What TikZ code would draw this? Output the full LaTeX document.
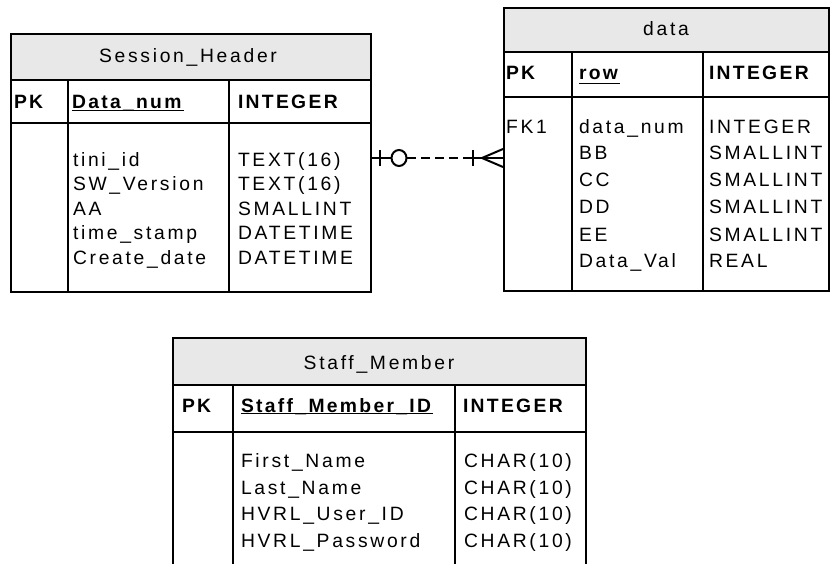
\documentclass[tikz,border=0pt]{standalone}
\usepackage{fontspec}
\setmainfont{Liberation Sans}[LetterSpace=14,BoldFeatures={LetterSpace=12}]
\definecolor{hdrgray}{HTML}{E8E8E8}
\newcommand\tfs{\fontsize{19.3}{21}\selectfont}
\begin{document}
\begin{tikzpicture}[x=1pt,y=-1pt,
  frame/.style={draw=black,line width=2pt},
  grid/.style={line width=2pt},
  hdrfill/.style={fill=hdrgray},
  txt/.style={inner sep=0pt,outer sep=0pt,anchor=base west,font=\tfs},
  ctxt/.style={inner sep=0pt,outer sep=0pt,anchor=base,font=\tfs},
  ulin/.style={line width=1.8pt},
  rel/.style={line width=2pt}]
\useasboundingbox (0,0) rectangle (830,564);

% ---------------- Session_Header ----------------
\fill[hdrfill] (10,33) rectangle (370,80);
\node[frame,minimum width=360pt,minimum height=258pt,anchor=north west,inner sep=0pt] (sh) at (10,33) {};
\draw[grid] (10,80) -- (370,80);
\draw[grid] (10,123) -- (370,123);
\draw[grid] (68,80) -- (68,291);
\draw[grid] (229,80) -- (229,291);
\node[ctxt] (shh) at (188,63) {Session\_Header};
\node[txt] (shpk) at (14,109) {\textbf{PK}};
\node[txt] (shk) at (72,109) {\textbf{Data\_num}};
\draw[ulin] ([yshift=-1.5pt]shk.base west) -- ([yshift=-1.5pt]shk.base east);
\node[txt] (sht) at (238,109) {\textbf{INTEGER}};
\node[txt] (shr1) at (73,167) {tini\_id};
\node[txt] (shr2) at (73,191) {SW\_Version};
\node[txt] (shr3) at (73,215) {AA};
\node[txt] (shr4) at (73,240) {time\_stamp};
\node[txt] (shr5) at (73,264) {Create\_date};
\node[txt] (sht1) at (238,167) {TEXT(16)};
\node[txt] (sht2) at (238,191) {TEXT(16)};
\node[txt] (sht3) at (238,215) {SMALLINT};
\node[txt] (sht4) at (238,240) {DATETIME};
\node[txt] (sht5) at (238,264) {DATETIME};

% ---------------- data ----------------
\fill[hdrfill] (503,7) rectangle (828,52);
\node[frame,minimum width=325pt,minimum height=283pt,anchor=north west,inner sep=0pt] (dt) at (503,7) {};
\draw[grid] (503,52) -- (828,52);
\draw[grid] (503,97) -- (828,97);
\draw[grid] (572,52) -- (572,290);
\draw[grid] (703,52) -- (703,290);
\node[ctxt] (dth) at (666,36) {data};
\node[txt] (dtpk) at (506,80) {\textbf{PK}};
\node[txt] (dtk) at (579,80) {\textbf{row}};
\draw[ulin] ([yshift=-3.5pt]dtk.base west) -- ([yshift=-3.5pt]dtk.base east);
\node[txt] (dtt) at (709,80) {\textbf{INTEGER}};
\node[txt] (dtfk) at (506,134) {FK1};
\node[txt] (dtr1) at (579,134) {data\_num};
\node[txt] (dtr2) at (579,160) {BB};
\node[txt] (dtr3) at (579,187) {CC};
\node[txt] (dtr4) at (579,214) {DD};
\node[txt] (dtr5) at (579,241) {EE};
\node[txt] (dtr6) at (579,268) {Data\_Val};
\node[txt] (dtt1) at (709,134) {INTEGER};
\node[txt] (dtt2) at (709,160) {SMALLINT};
\node[txt] (dtt3) at (709,187) {SMALLINT};
\node[txt] (dtt4) at (709,214) {SMALLINT};
\node[txt] (dtt5) at (709,241) {SMALLINT};
\node[txt] (dtt6) at (709,268) {REAL};

% ---------------- Staff_Member ----------------
\fill[hdrfill] (173,338) rectangle (586,385);
\draw[grid] (173,575) -- (173,338) -- (586,338) -- (586,575);
\draw[grid] (173,385) -- (586,385);
\draw[grid] (173,432) -- (586,432);
\draw[grid] (233,385) -- (233,575);
\draw[grid] (455,385) -- (455,575);
\node[ctxt] (smh) at (379,369) {Staff\_Member};
\node[txt] (smpk) at (182,412) {\textbf{PK}};
\node[txt] (smk) at (241,412) {\textbf{Staff\_Member\_ID}};
\draw[ulin] ([yshift=-1.5pt]smk.base west) -- ([yshift=-1.5pt]smk.base east);
\node[txt] (smt) at (463,412) {\textbf{INTEGER}};
\node[txt] (smr1) at (241,467) {First\_Name};
\node[txt] (smr2) at (241,494) {Last\_Name};
\node[txt] (smr3) at (241,520) {HVRL\_User\_ID};
\node[txt] (smr4) at (241,547) {HVRL\_Password};
\node[txt] (smt1) at (464,467) {CHAR(10)};
\node[txt] (smt2) at (464,494) {CHAR(10)};
\node[txt] (smt3) at (464,520) {CHAR(10)};
\node[txt] (smt4) at (464,547) {CHAR(10)};

% ---------------- relationship ----------------
\coordinate (ry) at (430,158);
\coordinate (ca) at (sh.east |- ry);
\coordinate (cb) at (dt.west |- ry);
\draw[rel] (ca) -- ++(20,0);
\draw[rel] (ca) ++(8,-8) -- ++(0,16);
\draw[rel] (ca) ++(27,0) ellipse[x radius=7.5,y radius=8];
\draw[rel,dash pattern=on 9pt off 5pt] ([xshift=35pt]ca) -- ([xshift=-30pt]cb);
\draw[rel] ([xshift=-32pt]cb) -- (cb);
\draw[rel] (cb) ++(-30,-8) -- ++(0,16);
\draw[rel] (cb) ++(0,-9) -- ++(-21,9) -- ++(21,9);
\end{tikzpicture}
\end{document}
